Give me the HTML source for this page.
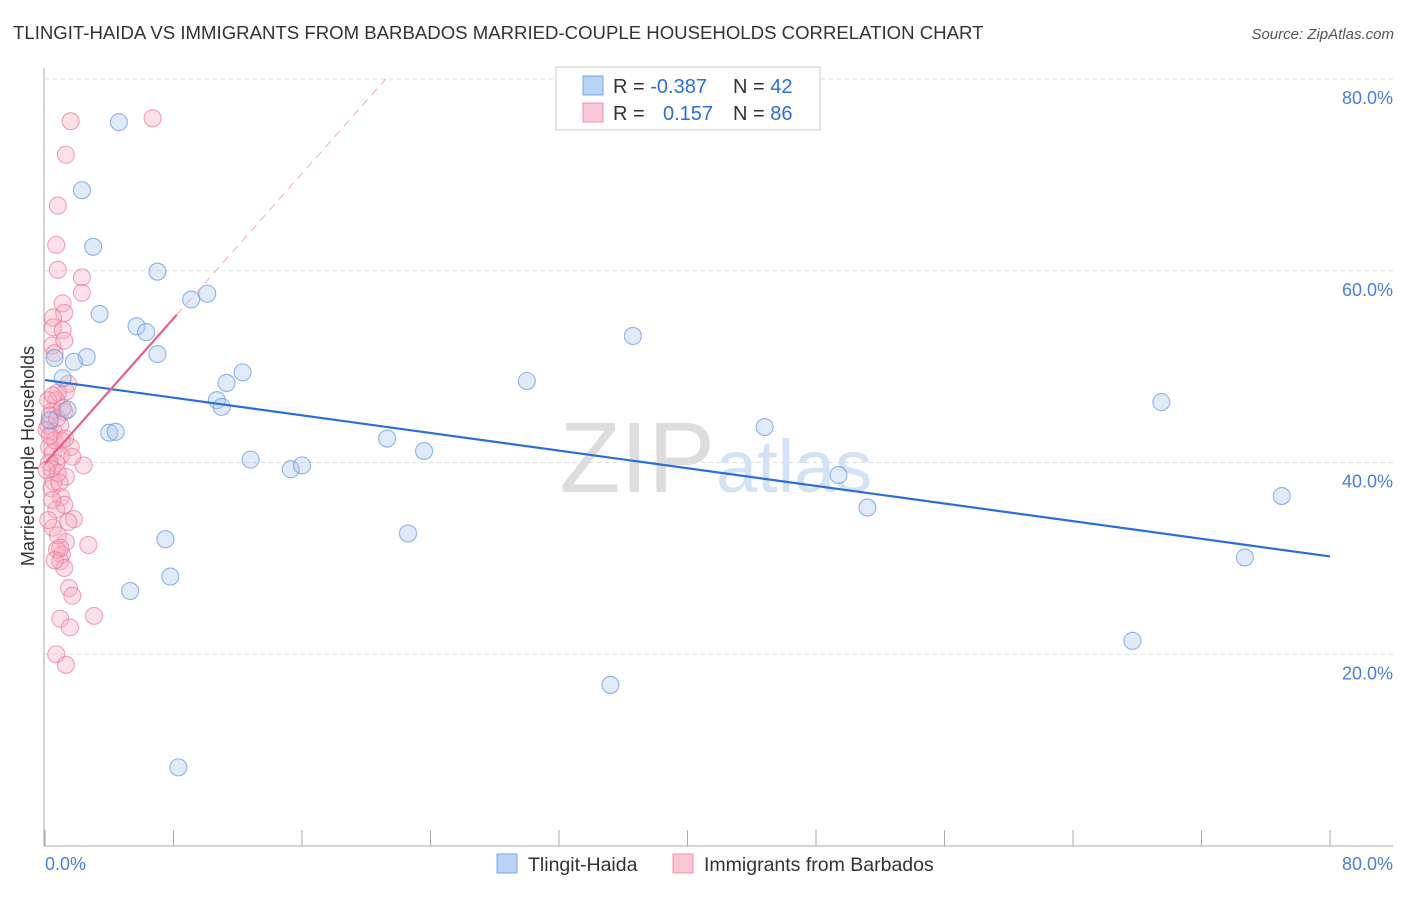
<!DOCTYPE html>
<html><head><meta charset="utf-8"><style>
body{margin:0;background:#fff;font-family:"Liberation Sans",sans-serif;}
svg text{font-family:"Liberation Sans",sans-serif;}
</style></head><body>
<svg width="1406" height="892" xmlns="http://www.w3.org/2000/svg">
<text x="13" y="39" font-size="18.6" fill="#333">TLINGIT-HAIDA VS IMMIGRANTS FROM BARBADOS MARRIED-COUPLE HOUSEHOLDS CORRELATION CHART</text>
<text x="1394" y="39" font-size="15" fill="#555" font-style="italic" text-anchor="end">Source: ZipAtlas.com</text>
<g id="grid"></g>
<text x="715" y="492" font-size="100" fill="#ddd" text-anchor="end" font-family="Liberation Serif">ZIP</text>
<text x="716" y="492" font-size="74" fill="#d3e2f4">atlas</text>
<g id="pts"></g>
<g id="lines"></g>
<text transform="translate(34,456) rotate(-90)" font-size="18" fill="#333" text-anchor="middle">Married-couple Households</text>
<text x="45" y="870" font-size="18" fill="#4a7fd4">0.0%</text>
<text x="1393" y="870" font-size="18" fill="#4a7fd4" text-anchor="end">80.0%</text>
<g>
<rect x="556" y="67" width="264" height="63" fill="#fff" stroke="#ccc"/>
<rect x="583" y="76" width="20" height="19" fill="#b9d3f5" stroke="#7aa6e0"/>
<text x="613" y="93" font-size="20" fill="#333">R = <tspan fill="#2a6fd4">-0.387</tspan></text>
<text x="733" y="93" font-size="20" fill="#333">N = <tspan fill="#2a6fd4">42</tspan></text>
<rect x="583" y="103" width="20" height="19" fill="#f9c6d4" stroke="#ec94ae"/>
<text x="613" y="120" font-size="20" fill="#333">R = </text>
<text x="663" y="120" font-size="20" fill="#2a6fd4">0.157</text>
<text x="733" y="120" font-size="20" fill="#333">N = <tspan fill="#2a6fd4">86</tspan></text>
</g>
<g>
<rect x="497" y="854" width="20" height="19" fill="#b9d3f5" stroke="#7aa6e0"/>
<text x="528" y="871" font-size="19.5" fill="#333">Tlingit-Haida</text>
<rect x="673" y="854" width="20" height="19" fill="#f9c6d4" stroke="#ec94ae"/>
<text x="704" y="871" font-size="19.5" fill="#333">Immigrants from Barbados</text>
</g>
</svg>
<script>
const yTicks=[20,40,60,80];
const yTickLabels=["20.0%","40.0%","60.0%","80.0%"];
const blueX=[4.6,2.3,3.0,7.0,3.4,5.7,6.3,9.1,10.1,7.0,2.6,1.8,0.6,1.1,12.3,11.3,10.7,11.0,1.4,4.0,4.4,12.8,21.3,23.6,15.3,16.0,30.0,36.6,22.6,7.5,7.8,5.3,8.3,35.2,44.8,49.4,51.2,69.5,77.0,74.7,67.7,0.3];
const blueY=[75.5,68.4,62.5,59.9,55.5,54.2,53.6,57.0,57.6,51.3,51.0,50.5,50.9,48.8,49.4,48.3,46.5,45.8,45.5,43.1,43.2,40.3,42.5,41.2,39.3,39.7,48.5,53.2,32.6,32.0,28.1,26.6,8.2,16.8,43.7,38.7,35.3,46.3,36.5,30.1,21.4,44.4];
const pinkX=[1.6,6.7,1.3,0.8,0.7,0.8,2.3,2.3,1.1,1.2,0.5,0.5,0.45,0.6,1.1,1.2,1.45,1.3,0.8,0.7,1.2,0.45,0.2,0.55,1.05,1.6,0.25,0.5,1.0,2.4,1.7,0.7,0.45,1.3,0.55,0.4,1.0,0.7,1.8,1.45,0.5,1.3,2.7,0.75,1.05,0.95,1.2,1.5,1.7,3.05,0.95,1.55,0.7,1.3,0.2,0.3,0.6,0.95,0.25,0.8,1.2,0.45,0.8,0.95,0.1,0.3,0.75,1.1,0.1,0.9,0.2,0.6,1.25,0.5];
const pinkY=[75.6,75.9,72.1,66.8,62.7,60.1,59.3,57.7,56.6,55.6,55.1,54.1,52.2,51.4,53.8,52.7,48.2,47.4,47.3,46.5,45.3,45.4,43.9,43.2,42.3,41.6,41.6,41.0,40.7,39.7,40.6,39.9,39.3,38.5,38.0,37.3,36.4,35.1,34.1,33.8,33.2,31.7,31.4,30.9,30.4,29.7,29.0,26.9,26.1,24.0,23.7,22.8,20.0,18.9,46.5,44.9,42.3,43.9,40.0,38.9,35.6,36.1,32.4,31.1,43.4,42.8,44.6,45.7,39.2,37.9,34.0,29.8,42.5,47.0];
// trend line [intercept, slope, solid end x]
const blueTrend=[48.6,-0.23,80];
const pinkTrend=[39.9,1.89,8.2];
const X0=45,X1=1330,Y0=846,Y80=79;
const sx=v=>X0+(X1-X0)*v/80, sy=v=>Y0-(Y0-Y80)*v/80;
const NS="http://www.w3.org/2000/svg";
function mk(t,a,p){const e=document.createElementNS(NS,t);for(const k in a)e.setAttribute(k,a[k]);p.appendChild(e);return e;}
const grid=document.getElementById('grid');
yTicks.forEach((t,i)=>{
 const l=mk('line',{x1:45,x2:1393,y1:sy(t),y2:sy(t),stroke:'#ddd','stroke-dasharray':'4,4'},grid);
 
 
 const tx=mk('text',{x:1393,y:sy(t)+25,'font-size':18,fill:'#4a7fd4','text-anchor':'end'},grid);
 tx.textContent=yTickLabels[i];
 
 
});
const ax=mk('line',{x1:44,x2:44,y1:68,y2:846,stroke:'#aaa'},grid);


const bx=mk('line',{x1:44,x2:1393,y1:846,y2:846,stroke:'#aaa'},grid);


for(let i=0;i<=10;i++){const t=mk('line',{x1:sx(i*8),x2:sx(i*8),y1:830,y2:846,stroke:'#aaa'},grid);
 
 }
const pts=document.getElementById('pts');
function dots(xs,ys,fill,stroke,name){xs.forEach((x,i)=>{
 const c=mk('circle',{cx:sx(x),cy:sy(ys[i]),r:8.5,fill:fill,'fill-opacity':0.35,stroke:stroke,'stroke-opacity':0.65,'stroke-width':1.1},pts);
 
 });}
dots(pinkX,pinkY,'#f5a9be','#e67799','point-barbados');
dots(blueX,blueY,'#a7c7f0','#5a8fd8','point-tlingit');
const lines=document.getElementById('lines');
const bl=mk('line',{x1:sx(0),y1:sy(blueTrend[0]),x2:sx(blueTrend[2]),y2:sy(blueTrend[0]+blueTrend[1]*blueTrend[2]),stroke:'#2a6fd4','stroke-width':2.2},lines);


const pe=pinkTrend[2], xe=(80-pinkTrend[0])/pinkTrend[1];
const pd=mk('line',{x1:sx(pe),y1:sy(pinkTrend[0]+pinkTrend[1]*pe),x2:sx(xe),y2:sy(80),stroke:'#f0b4c4','stroke-width':1.1,'stroke-dasharray':'8,6'},lines);


const pl=mk('line',{x1:sx(0),y1:sy(pinkTrend[0]),x2:sx(pe),y2:sy(pinkTrend[0]+pinkTrend[1]*pe),stroke:'#e8608a','stroke-width':2.2},lines);


</script>
</body></html>
